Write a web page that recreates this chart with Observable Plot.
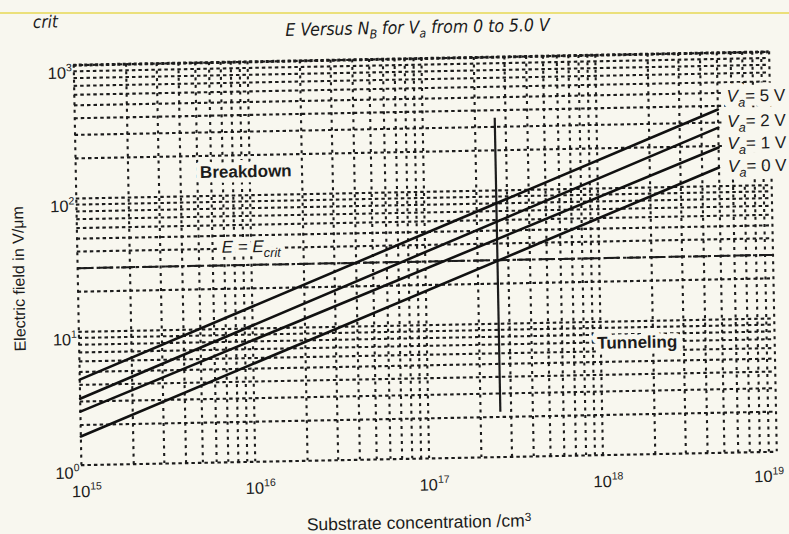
<!DOCTYPE html>
<html>
<head>
<meta charset="utf-8">
<script src="https://cdn.jsdelivr.net/npm/d3@7"></script>
<script src="https://cdn.jsdelivr.net/npm/@observablehq/plot@0.6"></script>
<style>
  html, body { margin: 0; padding: 0; background: #f8f7ef; }
  #page { position: relative; width: 789px; height: 534px; overflow: hidden; background: #f8f7ef;
          font-family: "Liberation Sans", Arial, sans-serif; color: #1b1b1b; }
  #edge { position: absolute; left: 0; top: 12px; width: 789px; height: 2px; background: #ebe07a; }
  #chart { position: absolute; left: 0; top: 0; width: 789px; height: 534px;
           transform: rotate(-1.1deg); transform-origin: 425px 258px; }
  #chart svg { position: absolute; left: 0; top: 0; }
  .lbl { position: absolute; white-space: nowrap; transform: translate(-50%, -50%); line-height: 1; }
  .narrow { font-family: "Liberation Sans Narrow", "DejaVu Sans Condensed", "Liberation Sans", sans-serif;
            font-stretch: condensed; font-style: italic; }
  .lbl sub { font-size: 0.7em; vertical-align: -0.35em; line-height: 0; }
  .lbl sup { font-size: 0.68em; vertical-align: 0.45em; line-height: 0; }
</style>
</head>
<body>
<div id="page">
  <div id="edge"></div>
  <div id="chart">
    <div class="lbl narrow" style="left:50px; top:15px; font-size:17px;">crit</div>
    <div class="lbl narrow" style="left:422px; top:28px; font-size:17.5px;">E Versus N<sub>B</sub> for V<sub>a</sub> from 0 to 5.0 V</div>
    <div class="lbl" style="left:414px; top:523px; font-size:17.5px;">Substrate concentration /cm<sup>3</sup></div>
    <div class="lbl" style="left:19px; top:271px; font-size:16px; transform: translate(-50%, -50%) rotate(-90deg);">Electric field in V/μm</div>
  </div>
</div>
<script>
// ---- data ----
const domainN = [1e15, 1e19];          // substrate concentration (/cm^3)
const domainE = [1, 1000];             // electric field (V/µm)

const Va = [0, 1, 2, 5];               // applied voltage of each curve (V)
const curveN = [1e15, 5e18];           // curve end points on N axis
const E_Va0 = [1.64, 138];
const E_Va1 = [2.52, 195];
const E_Va2 = [3.15, 275];
const E_Va5 = [4.38, 376];

const Ecrit = 30;                      // E = E_crit (V/µm)
const markerN = 2.6e17;                // vertical reference line
const markerE = [2.17, 348];

const xTickValues = [1e15, 1e16, 1e17, 1e18, 1e19];
const xTickExps = ["15", "16", "17", "18", "19"];
const yTickValues = [1, 10, 100, 1000];
const yTickExps = ["0", "1", "2", "3"];

const vaLabelVa = [5, 2, 1, 0];
const vaLabelE = [470, 305, 208, 140];
const vaLabelN = 5e18;

const regionText = ["Breakdown", "Tunneling"];
const regionN = [9.5e15, 1.62e18];
const regionE = [150, 6.9];

const ecritLabelN = 1e16;
const ecritLabelE = 41;

// ---- tables built from the arrays ----
const curveE = [E_Va0, E_Va1, E_Va2, E_Va5];
const curves = Va.flatMap((v, i) => curveN.map((n, j) => ({Va: v, N: n, E: curveE[i][j]})));
const xTicks = xTickValues.map((v, i) => ({v, t: "10^{" + xTickExps[i] + "}"}));
const yTicks = yTickValues.map((v, i) => ({v, t: "10^{" + yTickExps[i] + "}"}));
const vaLabels = vaLabelVa.map((v, i) => ({N: vaLabelN, E: vaLabelE[i], t: "*{V}%{a}= " + v + " V"}));
const regions = regionText.map((t, i) => ({t, N: regionN[i], E: regionE[i]}));
const ecritLabel = [{N: ecritLabelN, E: ecritLabelE, t: "*{E = E}%{crit}"}];

const gridN = d3.scaleLog().domain(domainN).ticks();
const gridE = d3.scaleLog().domain(domainE).ticks();

const ink = "#1c1c1c";
const paper = "#f8f7ef";

const vaOpts = {x: "N", y: "E", dx: 9, textAnchor: "start", text: "t", fontSize: 17};
const regionOpts = {x: "N", y: "E", text: "t", fontSize: 17, fontWeight: "bold"};
const ecritOpts = {x: "N", y: "E", text: "t", fontSize: 17};
const halo = w => ({fill: paper, stroke: paper, strokeWidth: w, strokeLinejoin: "round"});

const svg = Plot.plot({
  width: 789,
  height: 534,
  marginLeft: 77,
  marginRight: 16.5,
  marginTop: 58,
  marginBottom: 76,
  x: {type: "log", domain: domainN, axis: null},
  y: {type: "log", domain: domainE, axis: null},
  style: {background: "transparent", fontFamily: "'Liberation Sans', Arial, sans-serif", fontSize: "15px", color: ink, overflow: "visible"},
  marks: [
    Plot.ruleX(gridN, {x: d => d, stroke: ink, strokeWidth: 2.1, strokeDasharray: "3,4.5"}),
    Plot.ruleY(gridE, {y: d => d, stroke: ink, strokeWidth: 2.1, strokeDasharray: "3.5,3"}),
    Plot.ruleY([domainE[1]], {y: d => d, stroke: ink, strokeWidth: 3, strokeDasharray: "3,2.5"}),
    Plot.ruleY([Ecrit], {y: d => d, stroke: ink, strokeWidth: 2, strokeDasharray: "14,8"}),
    Plot.ruleX([markerN], {x: d => d, y1: markerE[0], y2: markerE[1], stroke: ink, strokeWidth: 2.2}),
    Plot.line(curves, {x: "N", y: "E", z: "Va", stroke: "#111", strokeWidth: 2.6}),
    // halos (paper-coloured) that clear the grid behind the annotations
    Plot.text(vaLabels, {...vaOpts, ...halo(14)}),
    Plot.text(regions, {...regionOpts, ...halo(10)}),
    Plot.text(ecritLabel, {...ecritOpts, ...halo(8)}),
    // annotations
    Plot.text(vaLabels, {...vaOpts, fill: ink}),
    Plot.text(regions, {...regionOpts, fill: ink}),
    Plot.text(ecritLabel, {...ecritOpts, fill: ink}),
    // tick labels
    Plot.text(xTicks.slice(0, 4), {x: "v", frameAnchor: "bottom", dy: 32, dx: 5, text: "t", fontSize: 16.5, fill: ink}),
    Plot.text(xTicks.slice(4), {x: "v", frameAnchor: "bottom", dy: 30, dx: 7, textAnchor: "end", text: "t", fontSize: 16.5, fill: ink}),
    Plot.text(yTicks, {y: "v", frameAnchor: "left", dx: -2, dy: 8, textAnchor: "end", text: "t", fontSize: 16.5, fill: ink})
  ]
});
document.getElementById("chart").appendChild(svg);

// rich text: ^{sup}  _{sub}  %{italic sub}  *{italic}
function rich(el) {
  const s = el.textContent;
  if (!/[\^_*%]\{/.test(s)) return;
  const fs = parseFloat(getComputedStyle(el).fontSize) || 15;
  el.textContent = "";
  const re = /([\^_*%])\{([^}]*)\}/g;
  let last = 0, shift = 0, m;
  const add = (txt, kind) => {
    if (!txt) return;
    const t = document.createElementNS("http://www.w3.org/2000/svg", "tspan");
    let target = 0, size = null, italic = false;
    if (kind === "^") { target = -0.45 * fs; size = 0.64 * fs; }
    else if (kind === "_") { target = 0.3 * fs; size = 0.75 * fs; }
    else if (kind === "%") { target = 0.3 * fs; size = 0.75 * fs; italic = true; }
    else if (kind === "*") { italic = true; }
    const dy = target - shift;
    if (dy) t.setAttribute("dy", dy);
    shift = target;
    if (size) t.setAttribute("font-size", size);
    if (italic) t.setAttribute("font-style", "italic");
    t.textContent = txt;
    el.appendChild(t);
  };
  while ((m = re.exec(s))) { add(s.slice(last, m.index), ""); add(m[2], m[1]); last = re.lastIndex; }
  add(s.slice(last), "");
}
svg.querySelectorAll("text").forEach(rich);
</script>
</body>
</html>
